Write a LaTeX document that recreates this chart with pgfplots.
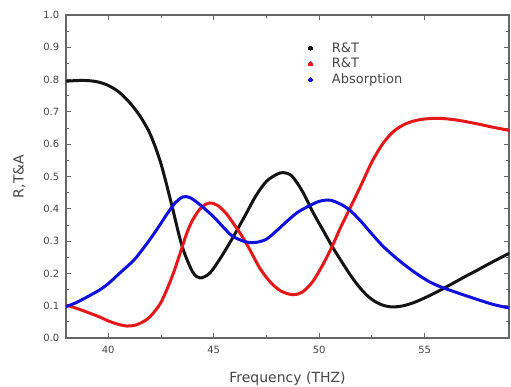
\documentclass[border=0pt]{standalone}
\usepackage{pgfplots}
\pgfplotsset{compat=1.18}
\usepackage{fontspec}
\setmainfont{DejaVu Sans}
\definecolor{cR}{RGB}{20,20,20}
\definecolor{cT}{RGB}{228,24,24}
\definecolor{cA}{RGB}{16,16,220}
\definecolor{txt}{RGB}{70,70,70}
\begin{document}
\begin{tikzpicture}
\path[use as bounding box] (-66bp,-49bp) rectangle (445bp,338bp);
\begin{axis}[
  scale only axis, width=443bp, height=323bp,
  xmin=38, xmax=59, ymin=0, ymax=1,
  xtick={40,45,50,55}, minor x tick num=1,
  ytick={0,0.1,...,1.0}, minor y tick num=1,
  yticklabel style={/pgf/number format/fixed,/pgf/number format/fixed zerofill,/pgf/number format/precision=1, xshift=-2bp},
  xticklabel style={yshift=-3bp},
  /pgf/number format/assume math mode=true,
  tick pos=both, tick align=inside,
  major tick length=5bp, minor tick length=3bp,
  every tick/.style={black!60, line width=0.8bp},
  axis line style={black!60, line width=1.2bp},
  tick label style={font=\fontsize{10bp}{12bp}\selectfont, text=txt},
  label style={font=\fontsize{14bp}{16bp}\selectfont, text=txt},
  xlabel={Frequency (THZ)},
  ylabel={R,T\&A},
  xlabel shift=10bp,
  ylabel shift=10bp,
  legend cell align=left,
  legend style={at={(0.532,0.93)}, anchor=north west, draw=none, fill=none,
    font=\fontsize{13bp}{15bp}\selectfont, text=txt, row sep=1.5bp,
    nodes={inner sep=1.5bp}},
  legend image code/.code={\fill[#1, line width=0pt] (0.1cm,0cm) circle (2bp); \path (0cm,0cm) (0.75cm,0cm);},
  line width=3bp,
]
\addplot[cR, smooth] coordinates {
(38.0,0.795) (38.5,0.797) (39.0,0.797) (39.5,0.793) (40.0,0.782) (40.5,0.762)
(41.0,0.73) (41.5,0.688) (42.0,0.63) (42.5,0.54) (43.0,0.415) (43.5,0.285)
(44.0,0.205) (44.35,0.186) (44.8,0.20) (45.3,0.245) (45.9,0.31) (46.5,0.38)
(47.0,0.44) (47.5,0.485) (48.0,0.507) (48.3,0.512) (48.7,0.502) (49.2,0.455)
(49.7,0.39) (50.2,0.332) (50.65,0.28) (51.1,0.233) (51.5,0.193) (51.9,0.158)
(52.3,0.13) (52.7,0.111) (53.1,0.1) (53.5,0.096) (54.0,0.10) (54.5,0.11)
(55.0,0.124) (55.5,0.14) (56.0,0.157) (56.5,0.175) (57.0,0.193) (57.5,0.21)
(58.0,0.228) (58.5,0.245) (59.0,0.262)
};
\addlegendentry{R\&T}
\addplot[cT, smooth] coordinates {
(38.0,0.102) (38.5,0.092) (39.0,0.08) (39.6,0.065) (40.0,0.053) (40.5,0.042)
(40.9,0.037) (41.3,0.04) (41.7,0.052) (42.0,0.067) (42.5,0.11) (43.0,0.185)
(43.4,0.26) (43.7,0.32) (44.0,0.365) (44.4,0.403) (44.8,0.418) (45.2,0.41)
(45.6,0.385) (45.9,0.358) (46.3,0.32) (46.7,0.275) (47.2,0.215) (47.7,0.172)
(48.2,0.145) (48.75,0.134) (49.2,0.142) (49.7,0.175) (50.2,0.23) (50.65,0.288)
(51.0,0.34) (51.45,0.40) (52.0,0.475) (52.5,0.545) (53.0,0.60) (53.5,0.638)
(54.0,0.66) (54.5,0.672) (55.0,0.678) (55.7,0.68) (56.5,0.675) (57.5,0.663)
(58.2,0.653) (59.0,0.643)
};
\addlegendentry{R\&T}
\addplot[cA, smooth] coordinates {
(38.0,0.097) (38.5,0.11) (39.0,0.127) (39.6,0.149) (40.0,0.168) (40.5,0.198)
(41.2,0.24) (41.6,0.272) (42.0,0.307) (42.4,0.345) (42.8,0.385) (43.2,0.42)
(43.55,0.437) (43.9,0.434) (44.4,0.41) (45.0,0.375) (45.5,0.34) (45.9,0.315)
(46.5,0.298) (47.0,0.296) (47.5,0.306) (48.0,0.333) (48.5,0.363) (49.0,0.39)
(49.56,0.41) (50.0,0.423) (50.5,0.427) (51.0,0.415) (51.45,0.396) (52.0,0.36)
(52.5,0.322) (53.0,0.286) (53.5,0.256) (54.0,0.229) (54.6,0.20) (55.2,0.175)
(55.7,0.16) (56.2,0.148) (57.0,0.13) (57.7,0.115) (58.3,0.103) (59.0,0.093)
};
\addlegendentry{Absorption}
\end{axis}
\end{tikzpicture}
\end{document}
